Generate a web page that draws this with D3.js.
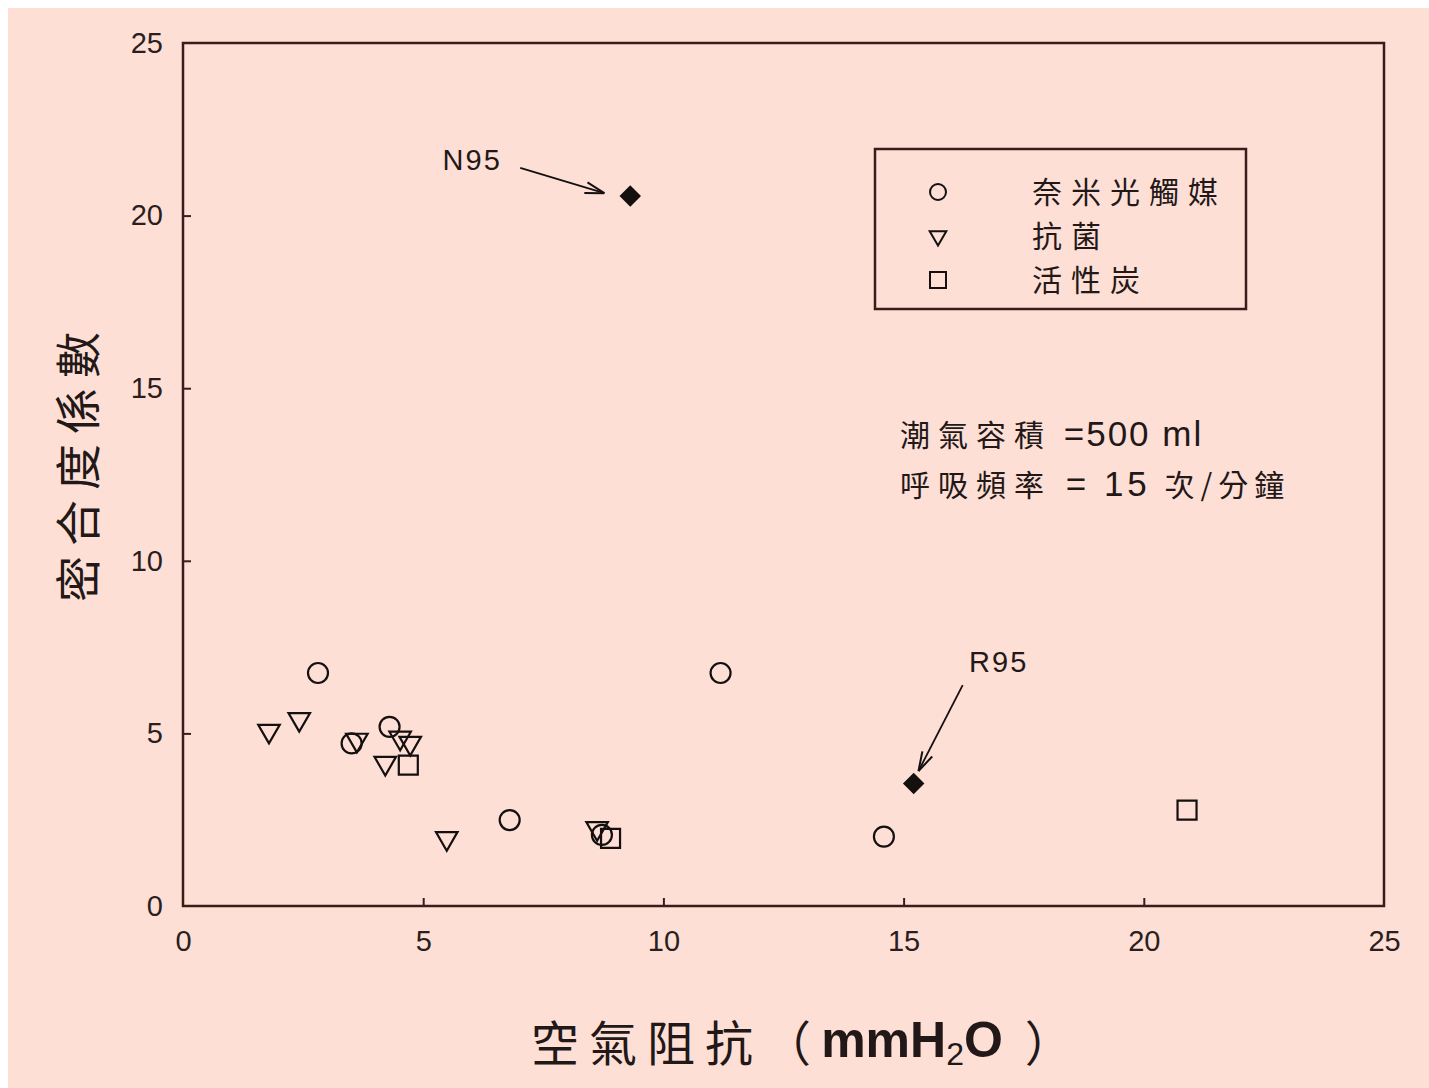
<!DOCTYPE html>
<html>
<head>
<meta charset="utf-8">
<script src="https://cdn.jsdelivr.net/npm/d3@7"></script>
<style>
  html, body { margin: 0; padding: 0; background: #ffffff; }
  svg { display: block; }
  svg text { font-family: "Liberation Sans", Arial, sans-serif; }
  .cjk { font-family: "Noto Sans CJK TC", "Noto Sans CJK SC", sans-serif; }
</style>
</head>
<body>
<svg id="chart"></svg>
<script>
// 奈米光觸媒 (circles)
const nanoX = [2.81, 3.51, 4.30, 6.80, 8.72, 11.19, 14.59];
const nanoY = [6.75, 4.71, 5.19, 2.49, 2.06, 6.75, 2.01];
// 抗菌 (down triangles)
const antiX = [1.79, 2.42, 3.62, 4.52, 4.73, 4.21, 5.49, 8.62];
const antiY = [5.07, 5.41, 4.81, 4.87, 4.72, 4.14, 1.96, 2.25];
// 活性炭 (squares)
const carbonX = [4.69, 8.90, 20.90];
const carbonY = [4.08, 1.96, 2.78];
// reference masks (filled diamonds)
const refNames = ["N95", "R95"];
const refX = [9.31, 15.21];
const refY = [20.57, 3.55];
// annotation label and arrow positions, in data units
const refLabelX = [6.02, 16.98];
const refLabelY = [21.6, 7.07];
const refArrowFrom = [[7.02, 21.38], [16.23, 6.40]];
const refArrowTo = [[8.77, 20.65], [15.31, 3.91]];

const xTicks = [0, 5, 10, 15, 20, 25];
const yTicks = [0, 5, 10, 15, 20, 25];
const legendLabels = ["奈米光觸媒", "抗菌", "活性炭"];
const noteLines = [
  ["潮氣容積", " =500 ml"],
  ["呼吸頻率", " = 15 ", "次/分鐘"]
];

const W = 1429, H = 1088;
const plot = { left: 183, right: 1384, top: 43, bottom: 906 };
const bg = "#fedfd6";
const ink = "#141010";
const frameColor = "#3a1c1c";

const svg = d3.select("#chart").attr("width", W).attr("height", H);

svg.append("rect").attr("x", 8).attr("y", 8).attr("width", W - 8).attr("height", H - 8).attr("fill", bg);

const x = d3.scaleLinear().domain([0, 25]).range([plot.left, plot.right]);
const y = d3.scaleLinear().domain([0, 25]).range([plot.bottom, plot.top]);

// frame
svg.append("rect")
  .attr("x", plot.left).attr("y", plot.top)
  .attr("width", plot.right - plot.left).attr("height", plot.bottom - plot.top)
  .attr("fill", "none").attr("stroke", frameColor).attr("stroke-width", 2.5);

const xAxis = svg.append("g")
  .attr("transform", "translate(0," + plot.bottom + ")")
  .call(d3.axisBottom(x).tickValues(xTicks).tickSize(-8).tickPadding(24).tickFormat(d3.format("d")));
const yAxis = svg.append("g")
  .attr("transform", "translate(" + plot.left + ",0)")
  .call(d3.axisLeft(y).tickValues(yTicks).tickSize(-8).tickPadding(20).tickFormat(d3.format("d")));

[xAxis, yAxis].forEach(function(g) {
  g.select(".domain").remove();
  g.selectAll(".tick line").attr("stroke", frameColor).attr("stroke-width", 2);
  g.selectAll(".tick text")
    .attr("fill", "#2a1e1e")
    .attr("font-size", 29)
    .attr("font-family", "'Liberation Sans', Arial, sans-serif");
});
xAxis.selectAll(".tick").filter(function(d) { return d === 0 || d === 25; }).select("line").remove();
yAxis.selectAll(".tick").filter(function(d) { return d === 0 || d === 25; }).select("line").remove();

// markers
const sym = {
  circle: d3.symbol().type(d3.symbolCircle).size(Math.PI * 10 * 10),
  triangle: d3.symbol().type(d3.symbolTriangle).size(200),
  square: d3.symbol().type(d3.symbolSquare).size(19 * 19),
  diamond: d3.symbol().type(d3.symbolSquare).size(13 * 13)
};

const marks = svg.append("g");

function drawSeries(xs, ys, path, rotate, filled) {
  marks.selectAll(null)
    .data(xs.map(function(v, i) { return [v, ys[i]]; }))
    .join("path")
    .attr("d", path)
    .attr("transform", function(d) { return "translate(" + x(d[0]) + "," + y(d[1]) + ") rotate(" + rotate + ")"; })
    .attr("fill", filled ? ink : "none")
    .attr("stroke", ink)
    .attr("stroke-width", 2.2);
}

drawSeries(nanoX, nanoY, sym.circle(), 0, false);
drawSeries(antiX, antiY, sym.triangle(), 180, false);
drawSeries(carbonX, carbonY, sym.square(), 0, false);
drawSeries(refX, refY, sym.diamond(), 45, true);

// annotations N95 / R95
const ann = svg.append("g");
refNames.forEach(function(name, i) {
  ann.append("text")
    .attr("x", x(refLabelX[i])).attr("y", y(refLabelY[i]))
    .attr("text-anchor", "middle").attr("dominant-baseline", "central")
    .attr("font-size", 29).attr("fill", "#221818")
    .attr("letter-spacing", 2)
    .text(name);
  const x1 = x(refArrowFrom[i][0]), y1 = y(refArrowFrom[i][1]);
  const x2 = x(refArrowTo[i][0]), y2 = y(refArrowTo[i][1]);
  ann.append("line")
    .attr("x1", x1).attr("y1", y1).attr("x2", x2).attr("y2", y2)
    .attr("stroke", ink).attr("stroke-width", 1.8);
  const ang = Math.atan2(y2 - y1, x2 - x1);
  const len = 20, spread = 0.28;
  [-spread, spread].forEach(function(s) {
    ann.append("line")
      .attr("x1", x2).attr("y1", y2)
      .attr("x2", x2 - len * Math.cos(ang + s)).attr("y2", y2 - len * Math.sin(ang + s))
      .attr("stroke", ink).attr("stroke-width", 2);
  });
});

// legend
const legend = svg.append("g");
legend.append("rect")
  .attr("x", 875).attr("y", 149).attr("width", 371).attr("height", 160)
  .attr("fill", "none").attr("stroke", frameColor).attr("stroke-width", 2.5);
const legendSyms = [
  { p: d3.symbol().type(d3.symbolCircle).size(Math.PI * 8 * 8)(), r: 0 },
  { p: d3.symbol().type(d3.symbolTriangle).size(120)(), r: 180 },
  { p: d3.symbol().type(d3.symbolSquare).size(16 * 16)(), r: 0 }
];
legendLabels.forEach(function(label, i) {
  const cy = 190 + i * 44;
  legend.append("path")
    .attr("d", legendSyms[i].p)
    .attr("transform", "translate(938," + (cy + 2) + ") rotate(" + legendSyms[i].r + ")")
    .attr("fill", "none").attr("stroke", ink).attr("stroke-width", 2);
  legend.append("text")
    .attr("class", "cjk")
    .attr("x", 1032).attr("y", cy)
    .attr("dominant-baseline", "central")
    .attr("font-size", 30).attr("letter-spacing", 9).attr("fill", "#221818")
    .text(label);
});

// conditions note
const note = svg.append("g");
const noteSpacing = [[8, 2], [8, 4, 6]];
noteLines.forEach(function(parts, i) {
  const t = note.append("text")
    .attr("x", 900).attr("y", 433 + i * 50)
    .attr("dominant-baseline", "central")
    .attr("fill", "#221818")
    .attr("xml:space", "preserve");
  parts.forEach(function(p, j) {
    const isCjk = /[\u4e00-\u9fff]/.test(p);
    t.append("tspan")
      .attr("class", isCjk ? "cjk" : null)
      .attr("font-size", isCjk ? 30 : 35)
      .attr("letter-spacing", noteSpacing[i][j])
      .text(p);
  });
});

// axis titles
const xt = svg.append("text")
  .attr("x", 802).attr("y", 1040)
  .attr("text-anchor", "middle").attr("dominant-baseline", "central")
  .attr("fill", "#221818")
  .attr("xml:space", "preserve");
xt.append("tspan").attr("class", "cjk").attr("font-size", 48).attr("letter-spacing", 10).text("空氣阻抗（");
xt.append("tspan").attr("font-size", 50).attr("font-weight", "bold").text("mmH");
xt.append("tspan").attr("font-size", 32).attr("dy", 14).text("2");
xt.append("tspan").attr("font-size", 50).attr("font-weight", "bold").attr("dy", -14).attr("letter-spacing", 22).text("O");
xt.append("tspan").attr("class", "cjk").attr("font-size", 48).text("）");

svg.append("text")
  .attr("class", "cjk")
  .attr("transform", "translate(75,462) rotate(-90)")
  .attr("text-anchor", "middle").attr("dominant-baseline", "central")
  .attr("font-size", 46).attr("letter-spacing", 10).attr("fill", "#221818")
  .text("密合度係數");
</script>
</body>
</html>
